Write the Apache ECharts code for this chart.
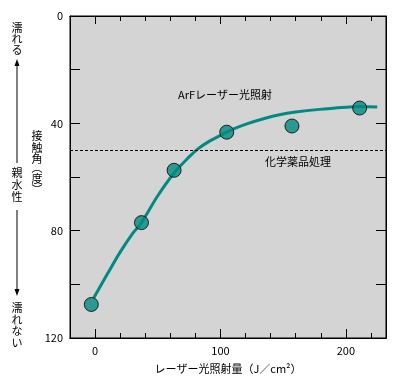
<!DOCTYPE html>
<html><head><meta charset="utf-8">
<script src="https://cdn.jsdelivr.net/npm/echarts@6/dist/echarts.min.js"></script>
<style>html,body{margin:0;padding:0;background:#fff}#c{width:396px;height:385px}</style>
</head><body><div id="c"></div>
<script>
// ---- data ----
const doseX = [-3, 37, 63, 105, 157, 211];
const contactAngle = [107.5, 77, 57.5, 43.3, 41, 34.3];
const curveX = [-1, 10, 20, 30, 37, 50, 63, 75, 82, 90, 100, 110, 121, 135, 147, 160, 179, 200, 211, 225];
const curveY = [105, 96, 88, 81, 77, 67, 58.5, 52.5, 49.5, 47, 44.5, 42.2, 40.2, 38.2, 36.8, 35.8, 34.8, 34, 33.7, 33.9];
const chemicalLevel = 50;
const xMajorTicks = [0, 100, 200];
const xMinorTicks = [20, 40, 60, 80, 120, 140, 160, 180, 220];
const yLabels = [0, 40, 80, 120];
const xTitle = 'レーザー光照射量（J／cm²）';
const arfLabel = 'ArFレーザー光照射';
const chemLabel = '化学薬品処理';

const FONT = '"Noto Sans CJK JP", sans-serif';
const TEAL = '#008a80';
const pts = doseX.map((x, i) => [x, contactAngle[i]]);
const curve = curveX.map((x, i) => [x, curveY[i]]);

const xMin = -20, xMax = 232;
function xAx(pos, vals, len, labels) {
  return {
    type: 'value', position: pos, min: xMin, max: xMax,
    axisLine: { show: true, onZero: false, lineStyle: { color: '#000', width: 1 } },
    splitLine: { show: false },
    axisTick: { show: true, inside: true, length: len, customValues: vals, lineStyle: { color: '#000', width: 1 } },
    axisLabel: labels ? { show: true, customValues: xMajorTicks, color: '#000', fontSize: 11, fontFamily: FONT, margin: 7 } : { show: false }
  };
}
function yAx(pos, labels) {
  return {
    type: 'value', position: pos, inverse: true, min: 0, max: 120, interval: 20,
    axisLine: { show: true, onZero: false, lineStyle: { color: '#000', width: 1 } },
    splitLine: { show: false },
    axisTick: { show: true, inside: true, length: 10, lineStyle: { color: '#000', width: 1 } },
    axisLabel: labels ? { show: true, customValues: yLabels, color: '#000', fontSize: 11, fontFamily: FONT, margin: 7 } : { show: false }
  };
}

function vtext(str, x, y, step) {
  return str.split('').map((ch, i) => ({
    type: 'text', x: x, y: y + i * step,
    style: { text: ch, fontSize: 11, fontFamily: FONT, fill: '#000', textAlign: 'center', textVerticalAlign: 'middle' }
  }));
}

const chart = echarts.init(document.getElementById('c'), null, { renderer: 'canvas' });
chart.setOption({
  animation: false,
  backgroundColor: '#fff',
  grid: { left: 70, right: 10, top: 16, bottom: 47, show: true, backgroundColor: '#d4d4d4', borderColor: '#000', borderWidth: 1 },
  xAxis: [
    xAx('bottom', xMajorTicks, 9, true),
    xAx('bottom', xMinorTicks, 5, false),
    xAx('top', xMajorTicks, 8, false),
    xAx('top', xMinorTicks, 5, false)
  ],
  yAxis: [yAx('left', true), yAx('right', false)],
  series: [
    {
      type: 'line', data: curve, smooth: 0.35, showSymbol: false, symbol: 'none',
      lineStyle: { color: TEAL, width: 3 }, z: 2,
      markLine: {
        silent: true, symbol: ['none', 'none'], label: { show: false },
        lineStyle: { color: '#000', type: [3, 2], width: 1 },
        data: [{ yAxis: chemicalLevel }]
      }
    },
    {
      type: 'scatter', data: pts, symbol: 'circle', symbolSize: 14,
      itemStyle: { color: TEAL, borderColor: '#000', borderWidth: 1 }, z: 3
    }
  ],
  graphic: [
    { type: 'text', x: 228, y: 369, style: { text: xTitle, fontSize: 11, fontFamily: FONT, fill: '#000', textAlign: 'center', textVerticalAlign: 'middle' } },
    { type: 'text', x: 178, y: 95, style: { text: arfLabel, fontSize: 11, fontFamily: FONT, fill: '#000', textAlign: 'left', textVerticalAlign: 'middle' } },
    { type: 'text', x: 265, y: 162, style: { text: chemLabel, fontSize: 11, fontFamily: FONT, fill: '#000', textAlign: 'left', textVerticalAlign: 'middle' } },
    ...vtext('濡れる', 17, 28, 11),
    ...vtext('親水性', 17, 173, 12),
    ...vtext('濡れない', 17, 308, 11.5),
    ...vtext('接触角', 37, 136, 11.5),
    ...vtext('︵度︶', 37, 168, 11),
    { type: 'line', shape: { x1: 17, y1: 64, x2: 17, y2: 163 }, style: { stroke: '#000', lineWidth: 1 } },
    { type: 'polygon', shape: { points: [[17, 59], [14.5, 66], [19.5, 66]] }, style: { fill: '#000' } },
    { type: 'line', shape: { x1: 17, y1: 210, x2: 17, y2: 291 }, style: { stroke: '#000', lineWidth: 1 } },
    { type: 'polygon', shape: { points: [[17, 296], [14.5, 289], [19.5, 289]] }, style: { fill: '#000' } }
  ]
});
</script></body></html>
